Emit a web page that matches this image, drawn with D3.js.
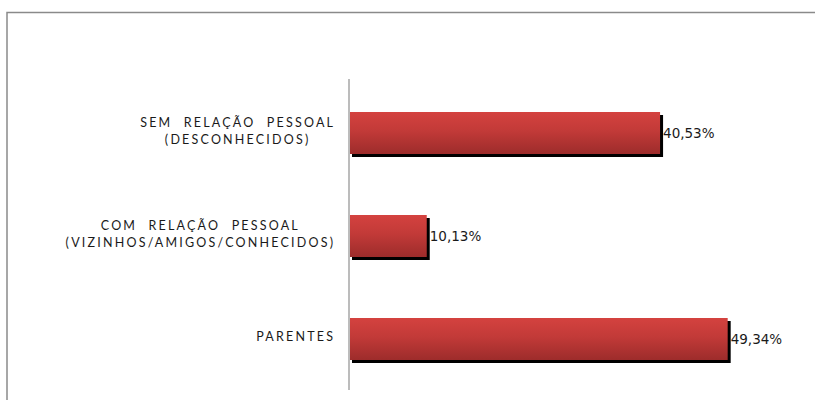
<!DOCTYPE html>
<html>
<head>
<meta charset="utf-8">
<script src="https://cdn.jsdelivr.net/npm/d3@7"></script>
<style>
  html, body { margin: 0; padding: 0; background: #fff; }
  svg { display: block; }
</style>
</head>
<body>
<svg id="chart" width="815" height="400"></svg>
<script>
// Category labels (each entry is the list of lines of one label), top to bottom
const categories = [
  ["SEM RELAÇÃO PESSOAL", "(DESCONHECIDOS)"],
  ["COM RELAÇÃO PESSOAL", "(VIZINHOS/AMIGOS/CONHECIDOS)"],
  ["PARENTES"]
];
const categoryKeys = ["sem", "com", "parentes"];
// Share of each group, in percent
const values = [40.53, 10.13, 49.34];

const svg = d3.select("#chart");
const defs = svg.append("defs");

const grad = defs.append("linearGradient")
  .attr("id", "barFill")
  .attr("x1", 0).attr("y1", 0).attr("x2", 0).attr("y2", 1);
grad.append("stop").attr("offset", "0%").attr("stop-color", "#d4423f");
grad.append("stop").attr("offset", "45%").attr("stop-color", "#c23a38");
grad.append("stop").attr("offset", "100%").attr("stop-color", "#9d2c2b");

// Outer frame (only top and left edges fall inside the view)
svg.append("rect")
  .attr("x", 7).attr("y", 12.5)
  .attr("width", 900).attr("height", 500)
  .attr("fill", "none")
  .attr("stroke", "#8a8a8a")
  .attr("stroke-width", 1.5);

const x = d3.scaleLinear().domain([0, 60]).range([349, 809.5]);
const y = d3.scaleBand().domain(categoryKeys).range([81.5, 390.5]).padding(0);
const barH = 42;
const barY = k => y(k) + (y.bandwidth() - barH) / 2;

const data = categoryKeys.map((k, i) => ({ key: k, lines: categories[i], value: values[i] }));

// Drop shadows
svg.append("g").selectAll("rect")
  .data(data).join("rect")
  .attr("x", x(0) + 3)
  .attr("y", d => barY(d.key) + 3)
  .attr("width", d => x(d.value) - x(0))
  .attr("height", barH)
  .attr("fill", "#000");

// Bars
svg.append("g").selectAll("rect")
  .data(data).join("rect")
  .attr("x", x(0))
  .attr("y", d => barY(d.key))
  .attr("width", d => x(d.value) - x(0))
  .attr("height", barH)
  .attr("fill", "url(#barFill)");

// Category axis line
svg.append("line")
  .attr("x1", x(0)).attr("x2", x(0))
  .attr("y1", 79).attr("y2", 390)
  .attr("stroke", "#bcbcbc")
  .attr("stroke-width", 2);

// Value labels
const loc = d3.formatLocale({ decimal: ",", thousands: ".", grouping: [3], currency: ["", ""] });
const fmt = loc.format(".2f");
svg.append("g").selectAll("text")
  .data(data).join("text")
  .attr("x", d => x(d.value) + 3)
  .attr("y", d => barY(d.key) + barH / 2)
  .attr("dy", "0.35em")
  .attr("font-family", "'DejaVu Sans', sans-serif")
  .attr("font-size", 13.5)
  .attr("fill", "#1a1a1a")
  .text(d => fmt(d.value) + "%");

// Category labels: lines centred within a block whose right edge is fixed
const labelRight = 333;
const ls = 2.2;
const lineGap = 17.5;
const labels = svg.append("g")
  .attr("font-family", "Lato, 'Open Sans', sans-serif")
  .attr("font-size", 12.5)
  .attr("fill", "#1a1a1a");

data.forEach(d => {
  const g = labels.append("g");
  const texts = d.lines.map(line => g.append("text")
    .style("letter-spacing", ls + "px")
    .style("word-spacing", "6px")
    .text(line));
  const widths = texts.map(t => t.node().getComputedTextLength() - ls);
  const blockW = d3.max(widths);
  const cx = labelRight - blockW / 2;
  const cy = barY(d.key) + barH / 2;
  const n = d.lines.length;
  texts.forEach((t, i) => {
    t.attr("x", cx - widths[i] / 2)
     .attr("y", cy + (i - (n - 1) / 2) * lineGap - 2)
     .attr("dy", "0.35em");
  });
});
</script>
</body>
</html>
